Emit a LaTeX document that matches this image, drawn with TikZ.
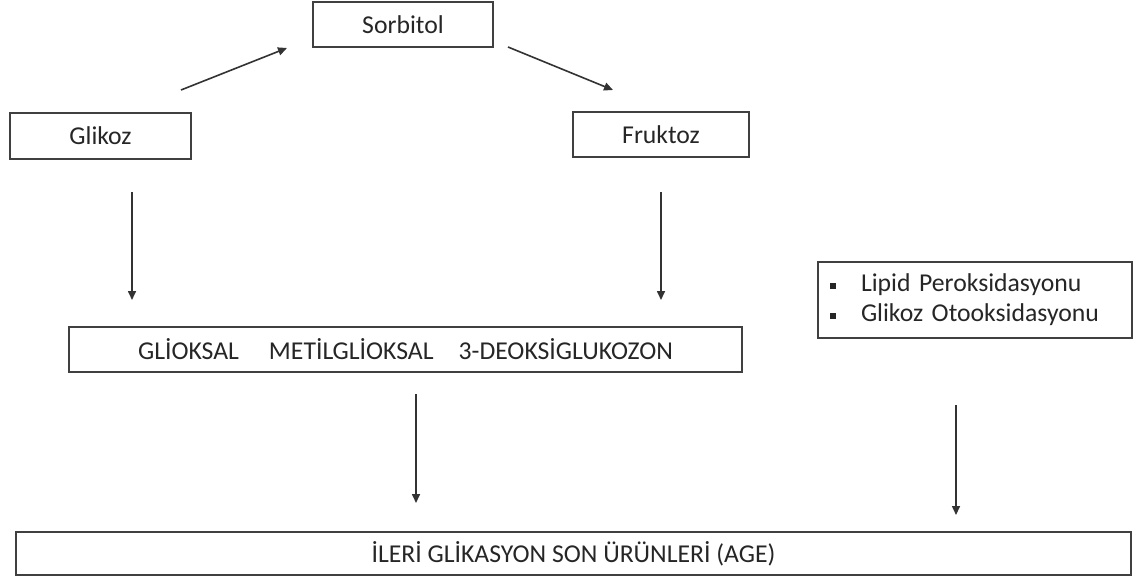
\documentclass[tikz,border=0pt]{standalone}
\usepackage{fontspec}
\setmainfont{Carlito}
\usetikzlibrary{arrows.meta}
\begin{document}
\begin{tikzpicture}[x=1pt,y=-1pt,
  box/.style={draw=black!75, line width=1.6pt, inner sep=0pt, text=black!85,
    font=\fontsize{25.7}{30}\selectfont},
  arr/.style={draw=black!80, line width=1.6pt, -{Triangle[length=9pt,width=8pt]}}]
\useasboundingbox[fill=white] (0,0) rectangle (1140,578);
\node[box, minimum width=180pt, minimum height=45pt] (sorb) at (403,24.5) {Sorbitol};
\node[box, minimum width=181pt, minimum height=46pt] (glik) at (100.5,136) {Glikoz};
\node[box, minimum width=176pt, minimum height=45pt] (fruk) at (661,134.5) {Fruktoz};
\node[box, minimum width=673pt, minimum height=45pt] (mid) at (405.5,349.5)
  {GLİOKSAL\hspace{30pt}METİLGLİOKSAL\hspace{25pt}3-DEOKSİGLUKOZON};
\node[box, minimum width=314pt, minimum height=76pt, text width=290pt, inner xsep=12pt,
  align=left] (lip) at (975,300)
  {\rule[3pt]{6pt}{6pt}\hspace{25pt}Lipid Peroksidasyonu\\
   \rule[3pt]{6pt}{6pt}\hspace{25pt}Glikoz Otooksidasyonu};
\node[box, minimum width=1115pt, minimum height=43pt] (age) at (573.5,553.5)
  {İLERİ GLİKASYON SON ÜRÜNLERİ (AGE)};
\coordinate (a1s) at (181,90);  \coordinate (a1e) at (287,48);
\coordinate (a2s) at (508,47);  \coordinate (a2e) at (613,90);
\coordinate (a3s) at (132,192); \coordinate (a3e) at (132,300);
\coordinate (a4s) at (661,192); \coordinate (a4e) at (661,300);
\coordinate (a5s) at (416,394); \coordinate (a5e) at (416,503);
\coordinate (a6s) at (956,405); \coordinate (a6e) at (956,515);
\draw[arr] (a1s) -- (a1e);
\draw[arr] (a2s) -- (a2e);
\draw[arr] (a3s) -- (a3e);
\draw[arr] (a4s) -- (a4e);
\draw[arr] (a5s) -- (a5e);
\draw[arr] (a6s) -- (a6e);
\end{tikzpicture}
\end{document}
